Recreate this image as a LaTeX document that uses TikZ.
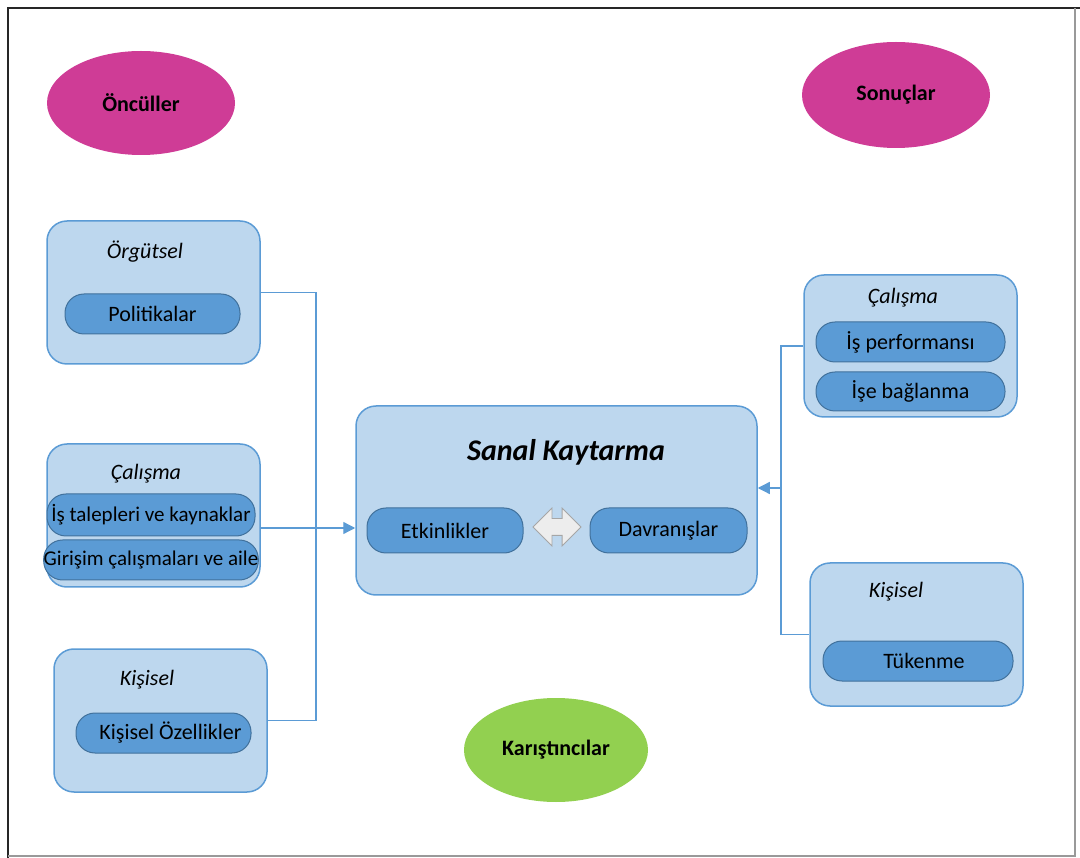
\documentclass[tikz,border=0pt]{standalone}
\usepackage{fontspec}
\setmainfont{Carlito}
\usetikzlibrary{arrows.meta,shapes.arrows,shapes.geometric}
\definecolor{boxfill}{HTML}{BDD7EE}
\definecolor{boxline}{HTML}{5B9BD5}
\definecolor{pillfill}{HTML}{5B9BD5}
\definecolor{pillline}{HTML}{41719C}
\definecolor{magent}{HTML}{CF3C96}
\definecolor{greenell}{HTML}{92D050}
\tikzset{
  grp/.style={draw=boxline, line width=1.5pt, fill=boxfill, rounded corners=20pt, inner sep=0pt},
  pill/.style={draw=pillline, line width=1pt, fill=pillfill, rounded corners=19pt, inner sep=0pt, font=\fontsize{22}{25}\selectfont},
  ttl/.style={font=\fontsize{22}{25}\selectfont\itshape, inner sep=0pt},
  ell/.style={ellipse, inner sep=0pt, font=\fontsize{22}{25}\selectfont\bfseries},
  conn/.style={draw=boxline, line width=1.3pt},
  tip/.style={-{Triangle[length=12pt,width=12pt]}}
}
\begin{document}
\begin{tikzpicture}[x=1pt,y=-1pt]
\useasboundingbox (0,0) rectangle (1080,858);
% frame
\draw[line width=2.5pt, black!85] (8,858) -- (8,8) -- (1080,8);
\draw[line width=1.5pt, black!40] (8,856) -- (1075,856) -- (1075,8);
% ellipses
\node[ell, fill=magent, minimum width=188pt, minimum height=104pt] (oncul) at (141,103) {Öncüller};
\node[ell, fill=magent, minimum width=188pt, minimum height=106pt] (sonuc) at (896,95) {Sonuçlar};
\node[ell, fill=greenell, minimum width=184pt, minimum height=104pt] (karis) at (556,750) {Karıştıncılar};
% left groups
\node[grp, minimum width=213pt, minimum height=143pt] (orgL) at (153.5,292.5) {};
\node[ttl] (orgT) at (145,252) {Örgütsel};
\node[pill, minimum width=175pt, minimum height=40pt] (polit) at (152.5,314) {Politikalar};

\node[grp, minimum width=213pt, minimum height=143pt] (calL) at (153.5,515.5) {};
\node[ttl] (calLT) at (146,474) {Çalışma};
\node[pill, minimum width=208pt, minimum height=42pt, font=\fontsize{21}{24}\selectfont] (istal) at (151,515) {İş talepleri ve kaynaklar};
\node[pill, minimum width=208pt, minimum height=40pt, font=\fontsize{21}{24}\selectfont] (giris) at (151,560) {Girişim çalışmaları ve aile};

\node[grp, minimum width=213pt, minimum height=143pt] (kisL) at (160.5,720.5) {};
\node[ttl] (kisLT) at (147,680) {Kişisel};
\node[pill, minimum width=175pt, minimum height=40pt] (kozel) at (163.5,733) {\hspace{14pt}Kişisel Özellikler};

% central
\node[grp, minimum width=401pt, minimum height=189pt] (central) at (556.5,500.5) {};
\node[inner sep=0pt, font=\fontsize{30}{34}\selectfont\bfseries\itshape] (sanal) at (566,452) {Sanal Kaytarma};
\node[pill, minimum width=156pt, minimum height=45pt] (etkin) at (445,530.5) {Etkinlikler};
\node[pill, minimum width=157pt, minimum height=45pt] (davr) at (668.5,530.5) {Davranışlar};
\node[double arrow, draw=black!35, fill=black!7, line width=0.8pt, inner sep=0pt,
      minimum height=48pt, double arrow head extend=10.5pt] (dbl) at (557,527) {\rule{0pt}{16pt}};

% right groups
\node[grp, minimum width=213pt, minimum height=142pt] (calR) at (910.5,346) {};
\node[ttl] (calRT) at (903,298) {Çalışma};
\node[pill, minimum width=189pt, minimum height=40pt] (isperf) at (910.5,342) {İş performansı};
\node[pill, minimum width=189pt, minimum height=39pt] (isbag) at (910.5,391.5) {İşe bağlanma};

\node[grp, minimum width=213pt, minimum height=143pt] (kisR) at (916.5,634.5) {};
\node[ttl] (kisRT) at (896,592) {Kişisel};
\node[pill, minimum width=190pt, minimum height=40pt] (tuken) at (918,661) {\hspace{12pt}Tükenme};

% connectors
\coordinate (jL) at (316,528);
\draw[conn] (orgL.east) -| (jL) |- (kisL.east);
\draw[conn,tip] (calL.east |- jL) -- (central.west |- jL);
\coordinate (jR) at (781,488);
\draw[conn] (calR.west) -| (jR) |- (kisR.west);
\draw[conn,tip] (jR) -- (central.east |- jR);
\end{tikzpicture}
\end{document}
